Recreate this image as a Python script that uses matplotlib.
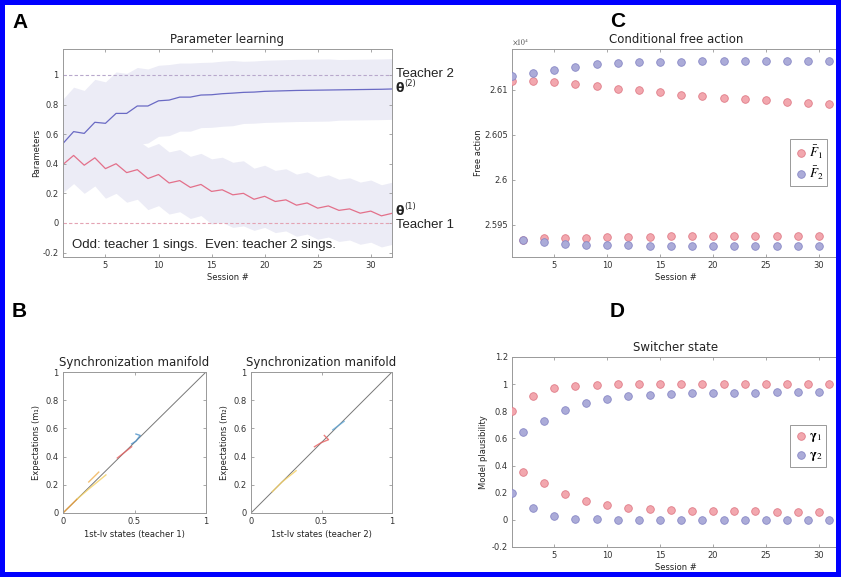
import numpy as np
import matplotlib.pyplot as plt
from matplotlib.patches import Rectangle
import matplotlib.transforms as mtransforms

plt.rcParams['font.family'] = ['DejaVu Sans']
plt.rcParams['mathtext.fontset'] = 'stix'

sessions = np.arange(1, 33)

# panel A: parameter learning
theta1 = [0.395, 0.456, 0.39, 0.44, 0.367, 0.40, 0.34, 0.36, 0.30, 0.327, 0.27, 0.286,
          0.24, 0.26, 0.213, 0.224, 0.19, 0.20, 0.16, 0.18, 0.145, 0.156, 0.12, 0.135,
          0.10, 0.115, 0.085, 0.095, 0.066, 0.08, 0.048, 0.065]
theta1_sd = [0.19, 0.19, 0.19, 0.19, 0.20, 0.20, 0.20, 0.20, 0.21, 0.21, 0.21, 0.21,
             0.21, 0.21, 0.22, 0.22, 0.22, 0.22, 0.21, 0.21, 0.21, 0.21, 0.21, 0.21,
             0.21, 0.21, 0.21, 0.21, 0.21, 0.21, 0.21, 0.21]
theta2 = [0.537, 0.617, 0.605, 0.68, 0.673, 0.74, 0.74, 0.79, 0.79, 0.825, 0.83, 0.85,
          0.85, 0.864, 0.866, 0.873, 0.877, 0.882, 0.884, 0.889, 0.891, 0.893, 0.895, 0.896,
          0.897, 0.898, 0.899, 0.900, 0.901, 0.902, 0.903, 0.905]
theta2_sd = [0.30, 0.30, 0.29, 0.29, 0.28, 0.28, 0.27, 0.26, 0.25, 0.24, 0.24, 0.23,
             0.23, 0.22, 0.22, 0.22, 0.22, 0.21, 0.21, 0.21, 0.21, 0.21, 0.21, 0.21,
             0.21, 0.21, 0.205, 0.205, 0.205, 0.205, 0.205, 0.205]

# panel C: conditional free action
F1 = [26109.6, 25933.3, 26109.6, 25935.1, 26108.1, 25935.1, 26105.9, 25935.5,
      26103.7, 25935.9, 26101.1, 25936.2, 26099.2, 25936.6, 26096.7, 25937.0,
      26094.4, 25937.0, 26092.9, 25937.2, 26091.1, 25937.4, 26089.2, 25937.5,
      26088.1, 25937.6, 26086.2, 25937.7, 26085.1, 25937.8, 26083.7, 25937.8]
F2 = [26114.8, 25932.6, 26118.9, 25930.3, 26122.2, 25928.9, 26125.1, 25927.8,
      26128.1, 25927.0, 26129.2, 25927.0, 26130.3, 25926.5, 26131.1, 25926.3,
      26131.1, 25926.3, 26131.3, 25926.2, 26131.5, 25926.2, 26131.6, 25926.2,
      26131.8, 25926.2, 26131.9, 25926.2, 26132.0, 25926.2, 26132.2, 25926.2]

# panel D: switcher state
gamma1 = [0.80, 0.35, 0.91, 0.27, 0.97, 0.19, 0.99, 0.14, 0.995, 0.11, 0.998, 0.09,
          0.999, 0.08, 1.0, 0.07, 1.0, 0.068, 1.0, 0.066, 1.0, 0.064, 1.0, 0.062,
          1.0, 0.061, 1.0, 0.06, 1.0, 0.059, 1.0, 0.058]
gamma2 = [0.20, 0.65, 0.09, 0.73, 0.03, 0.81, 0.01, 0.86, 0.005, 0.89, 0.002, 0.91,
          0.001, 0.92, 0.0, 0.93, 0.0, 0.932, 0.0, 0.934, 0.0, 0.936, 0.0, 0.938,
          0.0, 0.939, 0.0, 0.94, 0.0, 0.941, 0.0, 0.942]

# panel B: trajectory pieces near the synchronization manifold (x, y)
manifold1 = {
    '#F0A030': ([0.0, 0.05, 0.10], [0.0, 0.05, 0.10]),
    '#F5D060': ([0.10, 0.18, 0.30], [0.10, 0.17, 0.27]),
    '#F0B050': ([0.18, 0.25], [0.22, 0.29]),
    '#E86060': ([0.38, 0.43, 0.48], [0.39, 0.43, 0.47]),
    '#4A90C8': ([0.48, 0.51, 0.54, 0.51], [0.49, 0.51, 0.55, 0.56]),
}
manifold2 = {
    '#F5D060': ([0.15, 0.22, 0.32], [0.15, 0.22, 0.30]),
    '#E86060': ([0.45, 0.50, 0.55, 0.52], [0.47, 0.50, 0.52, 0.55]),
    '#60A8D8': ([0.58, 0.62, 0.66], [0.59, 0.62, 0.65]),
}

W, H = 841, 577
fig = plt.figure(figsize=(W / 100, H / 100), dpi=100)

def box(l, t, r, b):
    return [l / W, 1 - b / H, (r - l) / W, (b - t) / H]

def matlab_style(ax):
    for s in ax.spines.values():
        s.set_color('#999999')
        s.set_linewidth(0.7)
    ax.tick_params(direction='in', length=2.5, width=0.6, top=True, right=True,
                   labelsize=6, colors='#999999', labelcolor='#333333', pad=3)

tcol = '#222222'
red_face, red_edge = '#F2A7AE', '#E07C88'
blue_face, blue_edge = '#ABABD8', '#8888C6'

# ---- A
axA = fig.add_axes(box(63, 49, 392, 257))
axA.fill_between(sessions, np.array(theta2) - theta2_sd, np.array(theta2) + theta2_sd,
                 color='#ECECF6', lw=0)
axA.fill_between(sessions, np.array(theta1) - theta1_sd, np.array(theta1) + theta1_sd,
                 color='#ECECF6', lw=0)
axA.axhline(1, color='#B8A8CC', lw=0.8, ls=(0, (3, 2)))
axA.axhline(0, color='#E4A3B3', lw=0.8, ls=(0, (3, 2)))
axA.plot(sessions, theta2, color='#6A6AC4', lw=0.9)
axA.plot(sessions, theta1, color='#E3708A', lw=0.9)
axA.set_xlim(1, 32)
axA.set_ylim(-0.23, 1.175)
axA.set_xticks([5, 10, 15, 20, 25, 30])
axA.set_yticks([-0.2, 0, 0.2, 0.4, 0.6, 0.8, 1])
axA.set_yticklabels(['-0.2', '0', '0.2', '0.4', '0.6', '0.8', '1'])
matlab_style(axA)
axA.set_title('Parameter learning', fontsize=8.5, color=tcol, pad=4)
axA.set_xlabel('Session #', fontsize=6, color=tcol, labelpad=2)
axA.set_ylabel('Parameters', fontsize=6, color=tcol, labelpad=1)
axA.text(1.84, -0.15, 'Odd: teacher 1 sings.  Even: teacher 2 sings.', fontsize=9.5,
         family='Liberation Sans', color='#222222', va='center')
blend = mtransforms.blended_transform_factory(axA.transAxes, axA.transData)
axA.text(1.012, 1.007, 'Teacher 2', transform=blend, fontsize=9.5, family='Liberation Sans',
         va='center', color='#222222')
axA.text(1.012, -0.015, 'Teacher 1', transform=blend, fontsize=9.5, family='Liberation Sans',
         va='center', color='#222222')
for yv, sup in [(0.905, '(2)'), (0.077, '(1)')]:
    axA.text(1.012, yv, 'θ', transform=blend, fontsize=9, fontweight='bold',
             va='center', color='#222222')
    axA.annotate(sup, xy=(1.012, yv), xycoords=blend, xytext=(6, 0.5),
                 textcoords='offset points', fontsize=6, va='bottom', color='#222222')

# ---- B
for (l, r), traj, sub, teacher in [((63, 206), manifold1, '₁', 1), ((251, 392), manifold2, '₂', 2)]:
    ax = fig.add_axes(box(l, 372, r, 513))
    ax.plot([0, 1], [0, 1], color='#777777', lw=0.7)
    for c, (xs, ys) in traj.items():
        ax.plot(xs, ys, color=c, lw=1.0, alpha=0.8)
    ax.set_xlim(0, 1)
    ax.set_ylim(0, 1)
    ax.set_xticks([0, 0.5, 1])
    ax.set_xticklabels(['0', '0.5', '1'])
    ax.set_yticks([0, 0.2, 0.4, 0.6, 0.8, 1])
    ax.set_yticklabels(['0', '0.2', '0.4', '0.6', '0.8', '1'])
    matlab_style(ax)
    ax.set_title('Synchronization manifold', fontsize=8.5, color=tcol, pad=4)
    ax.set_xlabel(f'1st-lv states (teacher {teacher})', fontsize=6, color=tcol, labelpad=3)
    ax.set_ylabel(f'Expectations (m{sub})', fontsize=6, color=tcol, labelpad=3)

# ---- C
axC = fig.add_axes(box(512, 49, 840, 257))
axC.scatter(sessions, np.array(F1) / 1e4, s=30, facecolor=red_face, edgecolor=red_edge,
            lw=0.6, label=r'$\bar{F}_1$', zorder=3)
axC.scatter(sessions, np.array(F2) / 1e4, s=30, facecolor=blue_face, edgecolor=blue_edge,
            lw=0.6, label=r'$\bar{F}_2$', zorder=3)
axC.set_xlim(1, 32)
axC.set_ylim(2.5914, 2.6145)
axC.set_xticks([5, 10, 15, 20, 25, 30])
axC.set_yticks([2.595, 2.6, 2.605, 2.61])
axC.set_yticklabels(['2.595', '2.6', '2.605', '2.61'])
matlab_style(axC)
axC.set_title('Conditional free action', fontsize=8.5, color=tcol, pad=4)
axC.set_xlabel('Session #', fontsize=6, color=tcol, labelpad=2)
axC.set_ylabel('Free action', fontsize=6, color=tcol, labelpad=1)
axC.text(0.0, 1.01, r'$\times 10^4$', transform=axC.transAxes, fontsize=5.5,
         color='#444444', va='bottom')
legC = axC.legend(loc='upper left', bbox_to_anchor=(0.848, 0.565), fontsize=9.5,
                  handletextpad=0.1, handlelength=1.0, borderpad=0.3, labelspacing=0.3,
                  fancybox=False, framealpha=1, borderaxespad=0)
legC.get_frame().set_edgecolor('#999999')
legC.get_frame().set_linewidth(0.7)

# ---- D
axD = fig.add_axes(box(512, 357, 840, 547))
axD.scatter(sessions, gamma1, s=30, facecolor=red_face, edgecolor=red_edge, lw=0.6,
            label=r'$\mathbf{\gamma}_1$', zorder=3)
axD.scatter(sessions, gamma2, s=30, facecolor=blue_face, edgecolor=blue_edge, lw=0.6,
            label=r'$\mathbf{\gamma}_2$', zorder=3)
axD.set_xlim(1, 32)
axD.set_ylim(-0.2, 1.2)
axD.set_xticks([5, 10, 15, 20, 25, 30])
axD.set_yticks([-0.2, 0, 0.2, 0.4, 0.6, 0.8, 1, 1.2])
axD.set_yticklabels(['-0.2', '0', '0.2', '0.4', '0.6', '0.8', '1', '1.2'])
matlab_style(axD)
axD.set_title('Switcher state', fontsize=8.5, color=tcol, pad=4)
axD.set_xlabel('Session #', fontsize=6, color=tcol, labelpad=2)
axD.set_ylabel('Model plausibility', fontsize=6, color=tcol, labelpad=3)
legD = axD.legend(loc='upper left', bbox_to_anchor=(0.848, 0.64), fontsize=9.5,
                  handletextpad=0.1, handlelength=1.0, borderpad=0.3, labelspacing=0.3,
                  fancybox=False, framealpha=1, borderaxespad=0)
legD.get_frame().set_edgecolor('#999999')
legD.get_frame().set_linewidth(0.7)

# panel letters
for letter, x, y in [('A', 12, 28), ('B', 12, 317), ('C', 610, 27), ('D', 610, 317)]:
    fig.text(x / W, 1 - y / H, letter, fontsize=15, fontweight='bold',
             family='Liberation Sans', va='baseline', ha='left')

# blue frame
fig.patches.append(Rectangle((0, 0), 1, 1, transform=fig.transFigure, fill=False,
                             edgecolor='#0000FF', lw=7.2, zorder=10))

fig.savefig('out.png', dpi=100)
